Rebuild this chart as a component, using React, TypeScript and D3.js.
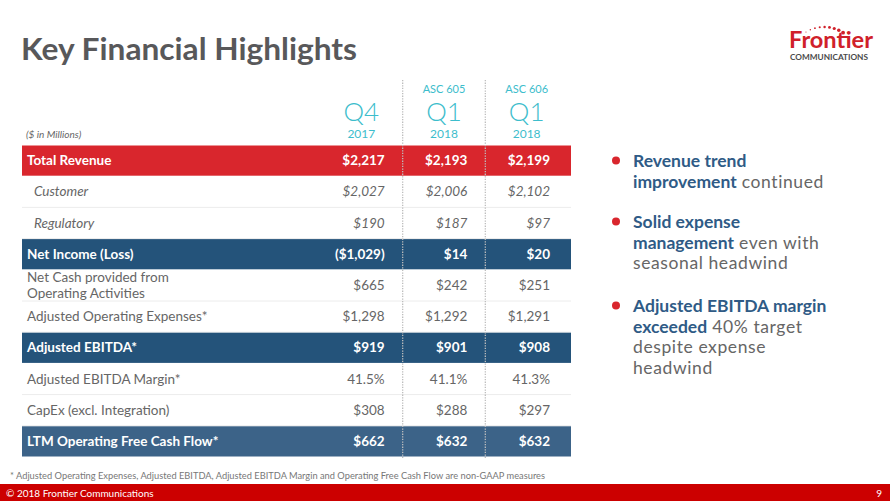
import React from "react";
import * as d3 from "d3";

const columns = ["Q4 2017", "Q1 2018 ASC 605", "Q1 2018 ASC 606"];
const colTop = ["", "ASC 605", "ASC 606"];
const colQuarter = ["Q4", "Q1", "Q1"];
const colYear = ["2017", "2018", "2018"];

type Kind = "red" | "blue" | "blue2" | "plain" | "italic";
const rowLabels = [
  "Total Revenue",
  "Customer",
  "Regulatory",
  "Net Income (Loss)",
  "Net Cash provided from Operating Activities",
  "Adjusted Operating Expenses*",
  "Adjusted EBITDA*",
  "Adjusted EBITDA Margin*",
  "CapEx (excl. Integration)",
  "LTM Operating Free Cash Flow*",
];
const rowValues = [
  ["$2,217", "$2,193", "$2,199"],
  ["$2,027", "$2,006", "$2,102"],
  ["$190", "$187", "$97"],
  ["($1,029)", "$14", "$20"],
  ["$665", "$242", "$251"],
  ["$1,298", "$1,292", "$1,291"],
  ["$919", "$901", "$908"],
  ["41.5%", "41.1%", "41.3%"],
  ["$308", "$288", "$297"],
  ["$662", "$632", "$632"],
];
const rowKinds: Kind[] = ["red", "italic", "italic", "blue", "plain", "plain", "blue", "plain", "plain", "blue2"];

const bullets = [
  [{ t: "Revenue trend", b: true }, { t: "|" }, { t: "improvement", b: true }, { t: " continued" }],
  [{ t: "Solid expense", b: true }, { t: "|" }, { t: "management", b: true }, { t: " even with" }, { t: "|" }, { t: "seasonal headwind" }],
  [{ t: "Adjusted EBITDA margin", b: true }, { t: "|" }, { t: "exceeded", b: true }, { t: " 40% target" }, { t: "|" }, { t: "despite expense" }, { t: "|" }, { t: "headwind" }],
];

const FONT = "Lato, 'Open Sans', sans-serif";
const TEAL = "#3dbdcc";
const RED = "#d9262d";
const BLUE = "#24537a";
const BLUE2 = "#3c6388";
const GRAY = "#666";

export default function App() {
  const W = 890, H = 501;
  const left = 22, right = 571;
  const y = d3.scaleBand<string>().domain(rowLabels).range([145, 457]).padding(0);
  const x = d3.scaleBand<string>().domain(columns).range([320, 568]).padding(0);
  const bw = y.bandwidth();

  const bulletLines = bullets.map((b) => {
    const lines: { t: string; b?: boolean }[][] = [[]];
    b.forEach((s) => {
      if (s.t === "|") lines.push([]);
      else lines[lines.length - 1].push(s);
    });
    return lines;
  });
  const bulletTop = [161, 222, 306];
  const lineH = 20.5;

  // logo dots arc
  const dots = d3.range(9).map((i) => {
    const a = ((121 - i * 8) * Math.PI) / 180;
    const r = 35;
    return { cx: 824 + r * Math.cos(a), cy: 62 - r * Math.sin(a), r: 0.55 + i * 0.17 };
  });

  return (
    <svg width={W} height={H} style={{ position: "absolute", left: 0, top: 0, background: "#fff" }} fontFamily={FONT}>
      <rect width={W} height={H} fill="#fff" />
      {/* Title */}
      <text x={21} y={60} fontSize={30} fontWeight={700} fill="#58585a" textLength={336} lengthAdjust="spacingAndGlyphs">
        Key Financial Highlights
      </text>
      {/* Logo */}
      {dots.map((d, i) => (
        <circle key={i} cx={d.cx} cy={d.cy} r={d.r} fill="#d0202a" />
      ))}
      <text x={789} y={48} fontSize={23} fontWeight={700} fill="#d0202a" textLength={84} lengthAdjust="spacingAndGlyphs">
        Frontier
      </text>
      <text x={790} y={60} fontSize={7.5} fontWeight={700} fill="#4a4a4a" textLength={78} lengthAdjust="spacingAndGlyphs">
        COMMUNICATIONS
      </text>

      {/* Header */}
      <text x={26} y={138} fontSize={10} fontStyle="italic" fill={GRAY}>($ in Millions)</text>
      {columns.map((c, i) => {
        const cx = (x(c) as number) + x.bandwidth() / 2;
        return (
          <g key={c}>
            {colTop[i] && (
              <text x={cx} y={93} fontSize={11} fill={TEAL} textAnchor="middle">{colTop[i]}</text>
            )}
            <text x={cx} y={121} fontSize={26} fontWeight={300} fill={TEAL} textAnchor="middle">{colQuarter[i]}</text>
            <text x={cx} y={138} fontSize={12} fill={TEAL} textAnchor="middle">{colYear[i]}</text>
          </g>
        );
      })}

      {/* Rows */}
      {rowLabels.map((lab, i) => {
        const y0 = y(lab) as number;
        const kind = rowKinds[i];
        const filled = kind === "red" || kind === "blue" || kind === "blue2";
        const fill = kind === "red" ? RED : kind === "blue" ? BLUE : kind === "blue2" ? BLUE2 : "none";
        const cy = y0 + bw / 2;
        const textFill = filled ? "#fff" : "#666";
        const labelLines = lab === "Net Cash provided from Operating Activities" ? ["Net Cash provided from", "Operating Activities"] : [lab];
        return (
          <g key={lab}>
            {filled && <rect x={left} y={y0 + 0.5} width={right - left} height={bw - 1} fill={fill} />}
            {!filled && <line x1={left} x2={right} y1={y0 + bw} y2={y0 + bw} stroke="#ececec" strokeWidth={1} />}
            {labelLines.map((l, k) => (
              <text
                key={k}
                x={kind === "italic" ? 34 : 27}
                y={cy + 4.5 + (labelLines.length > 1 ? (k - 0.5) * 16 : 0)}
                fontSize={13.5}
                fontWeight={filled ? 700 : 400}
                fontStyle={kind === "italic" ? "italic" : "normal"}
                fill={textFill}
              >
                {l}
              </text>
            ))}
            {rowValues[i].map((v, j) => (
              <text
                key={j}
                x={(x(columns[j]) as number) + x.bandwidth() - 18}
                y={cy + 4.5}
                fontSize={13.5}
                fontWeight={filled ? 700 : 400}
                fontStyle={kind === "italic" ? "italic" : "normal"}
                fill={textFill}
                textAnchor="end"
              >
                {v}
              </text>
            ))}
          </g>
        );
      })}

      {/* Dotted dividers */}
      {columns.slice(1).map((c) => (
        <line key={c} x1={x(c) as number} x2={x(c) as number} y1={80} y2={458} stroke="#bdbdbd" strokeWidth={1.3} strokeDasharray="1.3,1.3" />
      ))}

      {/* Bullets */}
      {bulletLines.map((lines, bi) => (
        <g key={bi}>
          <circle cx={616} cy={bulletTop[bi] - 0.5} r={4} fill={RED} />
          {lines.map((ln, li) => (
            <text key={li} x={633} y={bulletTop[bi] + 6 + li * lineH} fontSize={17.5} fill="#666">
              {ln.map((s, si) => (
                <tspan key={si} fontWeight={s.b ? 700 : 400} fill={s.b ? "#2f5b86" : "#666"} letterSpacing={s.b ? 0 : 0.6}>{s.t}</tspan>
              ))}
            </text>
          ))}
        </g>
      ))}

      {/* Footnote */}
      <text x={10} y={479} fontSize={8.5} fill="#777" textLength={535} lengthAdjust="spacingAndGlyphs">
        * Adjusted Operating Expenses, Adjusted EBITDA, Adjusted EBITDA Margin and Operating Free Cash Flow are non-GAAP measures
      </text>

      {/* Footer */}
      <rect x={0} y={484} width={W} height={17} fill="#cc0000" />
      <text x={6} y={496.5} fontSize={10} fill="#fff">© 2018 Frontier Communications</text>
      <text x={882} y={496.5} fontSize={10} fill="#fff" textAnchor="end">9</text>
    </svg>
  );
}
